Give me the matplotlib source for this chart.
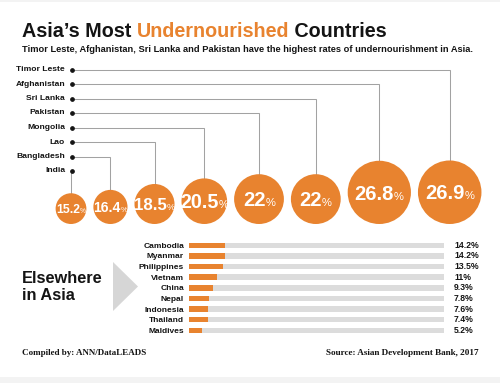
import matplotlib
matplotlib.use("Agg")
import matplotlib.pyplot as plt
from matplotlib import font_manager as fm
from matplotlib.patches import Circle, Polygon, Rectangle

# ---------------- data ----------------
top_countries = ["India", "Bangladesh", "Lao", "Mongolia", "Pakistan", "Sri Lanka", "Afghanistan", "Timor Leste"]
top_values = [15.2, 16.4, 18.5, 20.5, 22, 22, 26.8, 26.9]
top_labels = ["15.2", "16.4", "18.5", "20.5", "22", "22", "26.8", "26.9"]

other_countries = ["Cambodia", "Myanmar", "Philippines", "Vietnam", "China", "Nepal", "Indonesia", "Thailand", "Maldives"]
other_values = [14.2, 14.2, 13.5, 11, 9.3, 7.8, 7.6, 7.4, 5.2]
other_labels = ["14.2%", "14.2%", "13.5%", "11%", "9.3%", "7.8%", "7.6%", "7.4%", "5.2%"]

title_parts = ["Asia\u2019s Most ", "Undernourished", " Countries"]
subtitle = "Timor Leste, Afghanistan, Sri Lanka and Pakistan have the highest rates of undernourishment in Asia."
left_note = "Compiled by: ANN/DataLEADS"
right_note = "Source: Asian Development Bank, 2017"

# ---------------- style ----------------
ORANGE = "#E8832F"
GRAY_BAR = "#DCDCDC"
LINE = "#A2A2A2"
DARK = "#141414"


def has_font(name):
    try:
        fm.findfont(fm.FontProperties(family=name), fallback_to_default=False)
        return True
    except Exception:
        return False


NARROW = "Liberation Sans Narrow" if has_font("Liberation Sans Narrow") else "Liberation Sans"
SANS = "Liberation Sans"
SERIF = "Liberation Serif"

W, H = 500, 383
fig = plt.figure(figsize=(W / 100, H / 100), dpi=100)
fig.patch.set_facecolor("white")
ax = fig.add_axes([0, 0, 1, 1])
ax.set_xlim(0, W)
ax.set_ylim(H, 0)
ax.axis("off")
renderer = fig.canvas.get_renderer()
PT = 100 / 72.0  # px per pt

# light bands top/bottom
ax.add_patch(Rectangle((0, 377), W, 6, color="#F3F3F3", lw=0))
ax.add_patch(Rectangle((0, 0), W, 2, color="#F3F3F3", lw=0))

# ---------------- title ----------------
x = 22
colors = [DARK, ORANGE, DARK]
for part, c in zip(title_parts, colors):
    t = ax.text(x, 37, part, fontsize=14.2, fontweight="bold", family=SANS,
                color=c, ha="left", va="baseline")
    bb = t.get_window_extent(renderer)
    x += bb.width

ax.text(22, 51.5, subtitle, fontsize=6.7, fontweight="bold", family=NARROW,
        color=DARK, ha="left", va="baseline")

# ---------------- circles ----------------
bottom = 224
gap = 7
radii = [1.40 * v - 5.9 for v in top_values]
centers = []
cx = 71
for i, r in enumerate(radii):
    if i > 0:
        cx = cx + radii[i - 1] + gap + r
    centers.append(cx)

row0, row_step = 171, 14.5
for i, (name, r, cx) in enumerate(zip(top_countries, radii, centers)):
    ry = row0 - i * row_step
    cy = bottom - r
    # connector
    ax.plot([72, cx, cx], [ry, ry, cy - r], color=LINE, lw=0.75, zorder=1,
            solid_joinstyle="miter")
    ax.plot([72], [ry], marker="o", ms=2.4, color=DARK, zorder=3)
    ax.text(65, ry, name, fontsize=6.1, fontweight="bold", family=NARROW,
            color=DARK, ha="right", va="center")
    ax.add_patch(Circle((cx, cy), r, color=ORANGE, lw=0, zorder=2))
    # label
    fs = min(14.5, 0.72 * r - 2.2)
    pfs = fs * 0.55
    t1 = ax.text(0, 0, top_labels[i], fontsize=fs, fontweight="bold", family=NARROW,
                 color="white", ha="left", va="baseline", zorder=4)
    t2 = ax.text(0, 0, "%", fontsize=pfs, family=NARROW,
                 color="white", ha="left", va="baseline", zorder=4)
    w1 = t1.get_window_extent(renderer).width
    w2 = t2.get_window_extent(renderer).width
    total = w1 + w2
    base = cy + 0.72 * fs * PT / 2
    t1.set_position((cx - total / 2, base))
    t2.set_position((cx - total / 2 + w1, base))

# ---------------- elsewhere ----------------
ax.text(22, 283, "Elsewhere", fontsize=11.8, fontweight="bold", family=SANS,
        color=DARK, ha="left", va="baseline")
ax.text(22, 300, "in Asia", fontsize=11.8, fontweight="bold", family=SANS,
        color=DARK, ha="left", va="baseline")
ax.add_patch(Polygon([[113, 262], [138, 286.5], [113, 311]], closed=True,
                     color="#D6D6D6", lw=0))

# ---------------- bars ----------------
bx0, bx1 = 189, 444
by0, step = 240, 10.625
n = len(other_countries)
bax = fig.add_axes([bx0 / W, 1 - (by0 + n * step) / H, (bx1 - bx0) / W, n * step / H])
bax.set_xlim(0, 100)
bax.set_ylim(n - 0.5, -0.5)
ypos = list(range(n))
bax.barh(ypos, [100] * n, height=0.52, color=GRAY_BAR, lw=0)
bax.barh(ypos, other_values, height=0.52, color=ORANGE, lw=0)
bax.set_yticks(ypos)
bax.set_yticklabels(other_countries, fontsize=6.0, fontweight="bold", family=NARROW, color=DARK)
bax.tick_params(axis="y", length=0, pad=3.6)
bax.set_xticks([])
for s in bax.spines.values():
    s.set_visible(False)
bax.patch.set_alpha(0)
for i, lab in enumerate(other_labels):
    bax.annotate(lab, (100, i), xytext=(7.2, 0), textcoords="offset points",
                 fontsize=6.2, fontweight="bold", family=NARROW, color=DARK,
                 ha="left", va="center")

# ---------------- footer ----------------
ax.text(22, 355, left_note, fontsize=6.5, fontweight="bold", family=SERIF,
        color=DARK, ha="left", va="baseline")
ax.text(479, 355, right_note, fontsize=6.6, fontweight="bold", family=SERIF,
        color=DARK, ha="right", va="baseline")

fig.savefig("out.png", dpi=100, facecolor="white")
